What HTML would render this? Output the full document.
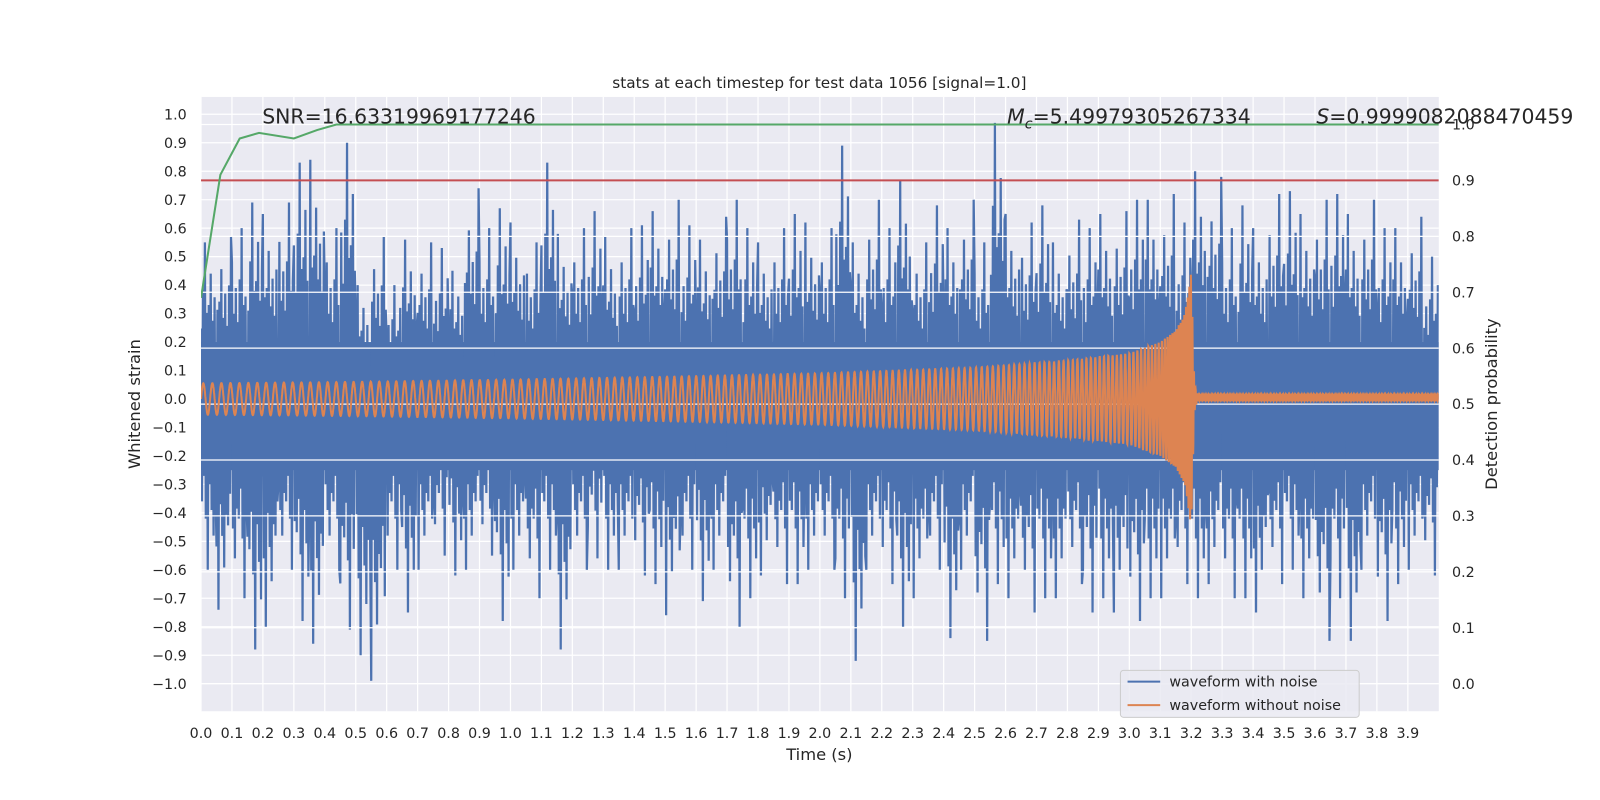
<!DOCTYPE html>
<html><head><meta charset="utf-8"><style>
html,body{margin:0;padding:0;width:1600px;height:800px;overflow:hidden;background:#fff;}
svg{display:block;font-family:"DejaVu Sans","Liberation Sans",sans-serif;}
</style></head><body>
<svg id="chart" width="1600" height="800" viewBox="0 0 1568 784" preserveAspectRatio="none" xmlns="http://www.w3.org/2000/svg">
<rect x="0" y="0" width="1568" height="784" fill="#fff"/>
<rect x="197" y="95" width="1213" height="602" fill="#eaeaf2"/>
<g id="grid1"></g>
<clipPath id="pc"><rect x="197" y="95" width="1213" height="602"/></clipPath>
<g id="blue" clip-path="url(#pc)"></g>
<g id="grid2"></g>
<g id="series2" clip-path="url(#pc)"></g>
<g id="ticks"></g>
<text x="803" y="86" font-size="15" text-anchor="middle" fill="#262626">stats at each timestep for test data 1056 [signal=1.0]</text>
<text x="257" y="121" font-size="20" fill="#262626">SNR=16.63319969177246</text>
<text x="987" y="121" font-size="20" fill="#262626"><tspan font-style="italic">M</tspan><tspan font-style="italic" font-size="14" dy="5">c</tspan><tspan dy="-5">=5.49979305267334</tspan></text>
<text x="1290" y="121" font-size="20" fill="#262626"><tspan font-style="italic">S</tspan>=0.9999082088470459</text>
<text x="803" y="745" font-size="16" text-anchor="middle" fill="#262626">Time (s)</text>
<text x="137" y="396" font-size="16" text-anchor="middle" fill="#262626" transform="rotate(-90 137 396)">Whitened strain</text>
<text x="1467" y="396" font-size="16" text-anchor="middle" fill="#262626" transform="rotate(-90 1467 396)">Detection probability</text>
<g>
<rect x="1098" y="657" width="234" height="46" rx="3" fill="#eaeaf2" fill-opacity="0.85" stroke="#ccc"/>
<line x1="1105" y1="668" x2="1137" y2="668" stroke="#4c72b0" stroke-width="2"/>
<text x="1146" y="673" font-size="14" fill="#262626">waveform with noise</text>
<line x1="1105" y1="691" x2="1137" y2="691" stroke="#dd8452" stroke-width="2"/>
<text x="1146" y="696" font-size="14" fill="#262626">waveform without noise</text>
</g>
</svg>
<script>
// ---- data ----
const noiseMax=[0.55,0.57,0.6,0.69,0.65,0.69,0.83,0.84,0.6,0.9,0.4,0.57,0.4,0.56,0.55,0.53,0.45,0.74,0.6,0.67,0.62,0.55,0.83,0.58,0.6,0.66,0.57,0.6,0.61,0.66,0.7,0.61,0.56,0.64,0.7,0.6,0.55,0.6,0.65,0.62,0.6,0.89,0.55,0.7,0.6,0.77,0.55,0.68,0.6,0.7,0.55,0.97,0.65,0.62,0.68,0.55,0.63,0.6,0.65,0.66,0.7,0.7,0.72,0.62,0.8,0.78,0.6,0.68,0.6,0.72,0.73,0.65,0.7,0.72,0.65,0.7,0.6,0.6,0.64,0.5];
const noiseMin=[-0.6,-0.74,-0.7,-0.88,-0.8,-0.6,-0.78,-0.86,-0.6,-0.81,-0.9,-0.99,-0.6,-0.75,-0.6,-0.55,-0.62,-0.6,-0.55,-0.78,-0.6,-0.7,-0.6,-0.88,-0.6,-0.56,-0.6,-0.6,-0.62,-0.65,-0.76,-0.6,-0.71,-0.6,-0.8,-0.7,-0.62,-0.65,-0.65,-0.6,-0.6,-0.7,-0.92,-0.6,-0.65,-0.8,-0.7,-0.6,-0.84,-0.6,-0.85,-0.65,-0.7,-0.75,-0.7,-0.7,-0.65,-0.75,-0.7,-0.75,-0.78,-0.7,-0.7,-0.65,-0.7,-0.65,-0.7,-0.7,-0.75,-0.65,-0.6,-0.7,-0.85,-0.7,-0.85,-0.6,-0.78,-0.65,-0.6,-0.62];
const noiseBand=[0.2,-0.25];
const envT=[0,0.5,1,1.5,2,2.5,2.8,3.0,3.1,3.15,3.18,3.2,3.21,3.22,4];
const envA=[0.055,0.06,0.068,0.078,0.09,0.11,0.135,0.16,0.2,0.24,0.3,0.45,0.05,0.01,0.01];
const freqT=[0,1,2,2.5,3,3.1,3.2,4];
const freqF=[34,38,46,54,75,95,200,200];
const probT=[0,0.0625,0.125,0.1875,0.3,0.375,0.4375,0.5,4.0];
const probV=[0.69,0.91,0.975,0.985,0.975,0.99,1.0,1.0,1.0];
const threshold=[0.9];
const xTicks=[0,0.1,0.2,0.3,0.4,0.5,0.6,0.7,0.8,0.9,1.0,1.1,1.2,1.3,1.4,1.5,1.6,1.7,1.8,1.9,2.0,2.1,2.2,2.3,2.4,2.5,2.6,2.7,2.8,2.9,3.0,3.1,3.2,3.3,3.4,3.5,3.6,3.7,3.8,3.9];
const yTicks=[-1.0,-0.9,-0.8,-0.7,-0.6,-0.5,-0.4,-0.3,-0.2,-0.1,0.0,0.1,0.2,0.3,0.4,0.5,0.6,0.7,0.8,0.9,1.0];
const y2Ticks=[0.0,0.1,0.2,0.3,0.4,0.5,0.6,0.7,0.8,0.9,1.0];
// ---- axes ----
const X=t=>197+t*303.25;
const Y=v=>391-v*279;
const Y2=v=>670-v*548;
const NS="http://www.w3.org/2000/svg";
function mk(tag,attrs,parent){const e=document.createElementNS(NS,tag);for(const k in attrs)e.setAttribute(k,attrs[k]);parent.appendChild(e);return e;}
const g1=document.getElementById('grid1'),g2=document.getElementById('grid2'),tk=document.getElementById('ticks'),bl=document.getElementById('blue'),s2=document.getElementById('series2');
const fmt=v=>(v<0?'\u2212':'')+Math.abs(v).toFixed(1);
xTicks.forEach(t=>{
 const l=mk('line',{x1:X(t),x2:X(t),y1:95,y2:697,stroke:'#fff','stroke-width':1.2},g1);
 
 
 const tx=mk('text',{x:X(t),y:723,'font-size':14,'text-anchor':'middle',fill:'#262626'},tk);
 tx.textContent=t.toFixed(1);
 
 
});
yTicks.forEach(v=>{
 const l=mk('line',{x1:197,x2:1410,y1:Y(v),y2:Y(v),stroke:'#fff','stroke-width':1.2},g1);
 
 
 const tx=mk('text',{x:183,y:Y(v)+5,'font-size':14,'text-anchor':'end',fill:'#262626'},tk);
 tx.textContent=fmt(v);
 
 
});
y2Ticks.forEach(v=>{
 const l=mk('line',{x1:197,x2:1410,y1:Y2(v),y2:Y2(v),stroke:'#fff','stroke-width':1.2},g2);
 
 
 const tx=mk('text',{x:1423,y:Y2(v)+5,'font-size':14,fill:'#262626'},tk);
 tx.textContent=v.toFixed(1);
 
 
});
// ---- noisy waveform ----
const bw=4/noiseMax.length;
const band=mk('rect',{x:X(0),y:Y(noiseBand[0]),width:X(4)-X(0),height:Y(noiseBand[1])-Y(noiseBand[0]),fill:'#4c72b0'},bl);


const sub=[0.45,-0.6,0.7,-0.45,1,-0.7,0.55,-1,0.6,-0.5,0.8,-0.65,0.5,-0.8,0.65,-0.55];
let pts=[];
noiseMax.forEach((mx,i)=>{
 const t0=i*bw, mn=noiseMin[i];
 const k=(i*5)%sub.length;
 for(let j=0;j<sub.length;j++){
  const f=sub[(j+k)%sub.length];
  pts.push([X(t0+bw*j/sub.length).toFixed(1),Y(f>0?mx*f:-mn*f).toFixed(1)]);
 }
});
const pl=mk('polyline',{points:pts.map(p=>p.join(',')).join(' '),fill:'none',stroke:'#4c72b0','stroke-width':2.2,'stroke-linejoin':'miter'},bl);


// ---- clean waveform ----
function interp(ts,vs,t){for(let i=1;i<ts.length;i++){if(t<=ts[i]){const f=(t-ts[i-1])/(ts[i]-ts[i-1]);return vs[i-1]+f*(vs[i]-vs[i-1]);}}return vs[vs.length-1];}
let ph=0,op=[];const dt=0.0004;
for(let t=0;t<=4;t+=dt){const a=interp(envT,envA,t);const f=interp(freqT,freqF,t);op.push(X(t).toFixed(1)+','+Y(a*Math.sin(ph)+(t>3.21?0.005:0)).toFixed(1));ph+=2*Math.PI*f*dt;}
const ol=mk('polyline',{points:op.join(' '),fill:'none',stroke:'#dd8452','stroke-width':2},s2);


// ---- threshold & probability ----
const rl=mk('line',{x1:X(0),x2:X(4),y1:Y2(threshold[0]),y2:Y2(threshold[0]),stroke:'#c44e52','stroke-width':2},s2);


const gl=mk('polyline',{points:probT.map((t,i)=>X(t)+','+Y2(probV[i])).join(' '),fill:'none',stroke:'#55a868','stroke-width':2},s2);


</script>
</body></html>
